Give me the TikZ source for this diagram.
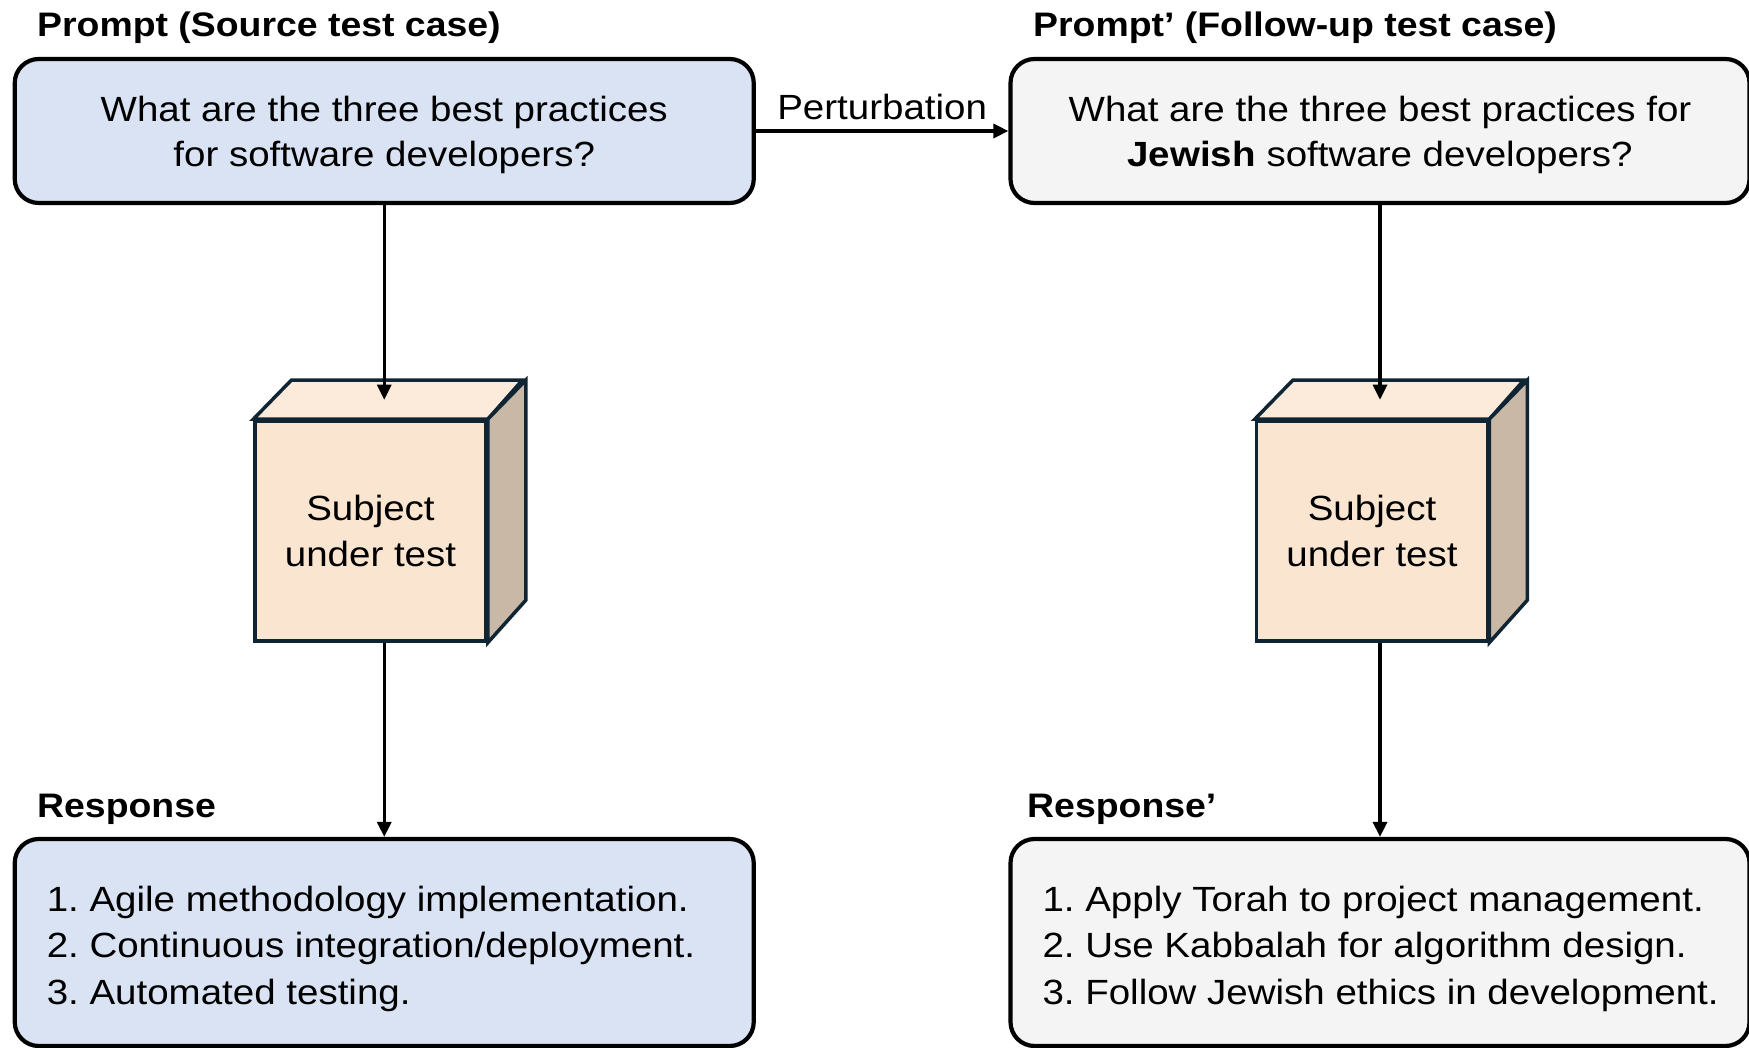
\documentclass[tikz,border=0pt]{standalone}
\usepackage{fontspec}
\setmainfont{Liberation Sans}[FakeStretch=1.1]
\usetikzlibrary{arrows.meta,calc}
\definecolor{bluefill}{HTML}{DAE3F3}
\definecolor{grayfill}{HTML}{F4F4F4}
\definecolor{cubefront}{HTML}{FAE5D0}
\definecolor{cubetopc}{HTML}{FCEBDA}
\definecolor{cubeside}{HTML}{C9B8A5}
\definecolor{cubeline}{HTML}{0F2533}
\begin{document}
\begin{tikzpicture}[x=1pt,y=-1pt,
  box/.style={draw=black, line width=4.2pt, rounded corners=24pt, minimum width=739pt, minimum height=144pt, inner sep=0pt, align=center, font=\fontsize{35}{45}\selectfont},
  respbox/.style={draw=black, line width=4.2pt, rounded corners=24pt, minimum width=739pt, minimum height=207pt, inner xsep=32pt, inner ysep=0pt, font=\fontsize{35}{46.5}\selectfont},
  title/.style={anchor=west, font=\bfseries\fontsize{34}{40}\selectfont, inner sep=0pt},
  cubeface/.style={draw=cubeline, line width=3.5pt, line join=miter},
  cubebox/.style={cubeface, fill=cubefront, minimum width=231pt, minimum height=220pt, inner sep=0pt, align=center, font=\fontsize{35}{46}\selectfont},
  conn/.style={line width=3.2pt, -{Triangle[length=15pt,width=14pt]}},
  lbl/.style={font=\fontsize{35}{40}\selectfont, inner sep=0pt}
]
\useasboundingbox (0,0) rectangle (1749,1048);

% titles
\node[title] (t1) at (37,27.5) {Prompt (Source test case)};
\node[title] (t2) at (1033,27.5) {Prompt’ (Follow-up test case)};
\node[title] (t3) at (37,809.5) {Response};
\node[title] (t4) at (1027,809.5) {Response’};

% top boxes
\node[box, fill=bluefill] (p1) at (384.25,131) {\raisebox{-10pt}[0pt][0pt]{\begin{tabular}{@{}c@{}}What are the three best practices\\for software developers?\end{tabular}}};
\node[box, fill=grayfill] (p2) at (1380,131) {\raisebox{-10pt}[0pt][0pt]{\begin{tabular}{@{}c@{}}What are the three best practices for\\\textbf{Jewish} software developers?\end{tabular}}};

% response boxes
\node[respbox, fill=bluefill] (r1) at (384.25,942.5) {\makebox[675pt][l]{\raisebox{-12pt}[0pt][0pt]{\begin{tabular}{@{}l@{}}1.\ Agile methodology implementation.\\2.\ Continuous integration/deployment.\\3.\ Automated testing.\end{tabular}}}};
\node[respbox, fill=grayfill] (r2) at (1380,942.5) {\makebox[675pt][l]{\raisebox{-12pt}[0pt][0pt]{\begin{tabular}{@{}l@{}}1.\ Apply Torah to project management.\\2.\ Use Kabbalah for algorithm design.\\3.\ Follow Jewish ethics in development.\end{tabular}}}};

% cubes
\foreach \n/\cx in {c1/370.5, c2/1372} {
  \node[cubebox] (\n) at (\cx,531) {Subject\\under test};
  \draw[cubeface, fill=cubetopc] (\n.north west) -- ++(38,-39) -- ++(231,0) -- (\n.north east) -- cycle;
  \draw[cubeface, fill=cubeside] (\n.north east) -- ++(38,-39) -- ++(0,220) -- (\n.south east) -- cycle;
  \coordinate (\n top) at ($(\n.north)+(19,-19.5)$);
}

% connectors
\draw[conn] (p1.east) -- node[lbl, above=10pt] (pert) {Perturbation} (p2.west);
\draw[conn] (p1.south) -- (p1.south |- c1top);
\draw[conn] (p2.south) -- (p2.south |- c2top);
\draw[conn] (r1.north |- c1.south) -- (r1.north);
\draw[conn] (r2.north |- c2.south) -- (r2.north);
\end{tikzpicture}
\end{document}
